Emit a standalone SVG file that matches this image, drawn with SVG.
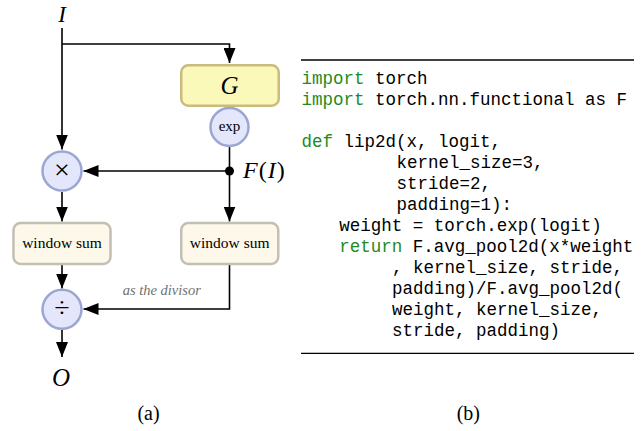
<svg xmlns="http://www.w3.org/2000/svg" width="642" height="431" viewBox="0 0 642 431">
<defs>
<marker id="arr" markerUnits="userSpaceOnUse" markerWidth="15" markerHeight="12" viewBox="0 0 15 12" refX="15" refY="6" orient="auto">
<path d="M0,0 L15,6 L0,12 z" fill="#000"/>
</marker>
<style>
.ln{fill:none;stroke:#000;stroke-width:1.6}
.circ{fill:#e4e7fb;stroke:#9ba6d3;stroke-width:2.5}
.ws{fill:#fdf8ea;stroke:#c4bfb4;stroke-width:2.5}
.g{fill:#fbf9b9;stroke:#c9bc7d;stroke-width:2.5}
.serif{font-family:"Liberation Serif","DejaVu Serif",serif;fill:#000}
.it{font-style:italic}
.code{font-family:"Liberation Mono","DejaVu Sans Mono",monospace;font-size:17.5px;fill:#000}
.kw{fill:#1f8a1f}
.rule{stroke:#000;stroke-width:1.3}
</style>
</defs>
<rect width="642" height="431" fill="#fff"/>

<g id="connectors">
<line class="ln" x1="62" y1="28" x2="62" y2="149.5" marker-end="url(#arr)"/>
<polyline class="ln" points="62,44 229.5,44 229.5,63" marker-end="url(#arr)"/>
<line class="ln" x1="229.5" y1="147" x2="229.5" y2="171"/>
<line class="ln" x1="229.5" y1="171" x2="83.5" y2="171" marker-end="url(#arr)"/>
<line class="ln" x1="229.5" y1="171" x2="229.5" y2="221.5" marker-end="url(#arr)"/>
<line class="ln" x1="62" y1="192" x2="62" y2="221.5" marker-end="url(#arr)"/>
<line class="ln" x1="62" y1="265" x2="62" y2="288.5" marker-end="url(#arr)"/>
<polyline class="ln" points="229.5,265 229.5,309 83.5,309" marker-end="url(#arr)"/>
<line class="ln" x1="62" y1="330" x2="62" y2="357" marker-end="url(#arr)"/>
<circle cx="229.5" cy="171" r="4.5" fill="#000"/>
<text class="serif it" x="122.7" y="295" font-size="14.5" style="fill:#707070">as the divisor</text>
</g>

<g id="node-I">
<text class="serif it" x="62" y="21.5" font-size="23" text-anchor="middle">I</text>
</g>

<g id="node-G">
<rect class="g" x="181.25" y="65.25" width="97.5" height="40.5" rx="7"/>
<text class="serif it" x="229.5" y="94" font-size="25" text-anchor="middle">G</text>
</g>

<g id="node-exp">
<circle class="circ" cx="229.5" cy="127" r="19"/>
<text class="serif" x="229.5" y="131" font-size="15" text-anchor="middle">exp</text>
</g>

<g id="node-F">
<text class="serif" x="243" y="178" font-size="24" letter-spacing="1"><tspan class="it">F</tspan>(<tspan class="it">I</tspan>)</text>
</g>

<g id="node-mul">
<circle class="circ" cx="62" cy="171" r="19.5"/>
<text class="serif" x="62" y="178.5" font-size="28" text-anchor="middle">×</text>
</g>

<g id="node-ws1">
<rect class="ws" x="13.5" y="223" width="97" height="41" rx="7"/>
<text class="serif" x="62" y="248" font-size="15.5" text-anchor="middle">window sum</text>
</g>

<g id="node-ws2">
<rect class="ws" x="181.25" y="223" width="97" height="41" rx="7"/>
<text class="serif" x="229.7" y="248" font-size="15.5" text-anchor="middle">window sum</text>
</g>

<g id="node-div">
<circle class="circ" cx="62" cy="309.3" r="19.5"/>
<text class="serif" x="62" y="316.8" font-size="28" text-anchor="middle">÷</text>
</g>

<g id="node-O">
<text class="serif it" x="61" y="386" font-size="25" text-anchor="middle">O</text>
</g>

<g id="code" xml:space="preserve">
<line class="rule" x1="301" y1="60" x2="634" y2="60"/>
<text class="code" x="301.5" y="83.5"><tspan class="kw">import</tspan> torch</text>
<text class="code" x="301.5" y="104.5"><tspan class="kw">import</tspan> torch.nn.functional as F</text>
<text class="code" x="301.5" y="146.5"><tspan class="kw">def</tspan> lip2d(x, logit,</text>
<text class="code" x="396.5" y="167.5">kernel_size=3,</text>
<text class="code" x="396.5" y="188.5">stride=2,</text>
<text class="code" x="396.5" y="209.5">padding=1):</text>
<text class="code" x="339.3" y="230.5">weight = torch.exp(logit)</text>
<text class="code" x="339.3" y="251.5"><tspan class="kw">return</tspan> F.avg_pool2d(x*weight</text>
<text class="code" x="392" y="272.5">, kernel_size, stride,</text>
<text class="code" x="392" y="293.5">padding)/F.avg_pool2d(</text>
<text class="code" x="392" y="314.5">weight, kernel_size,</text>
<text class="code" x="392" y="335.5">stride, padding)</text>
<line class="rule" x1="301" y1="353.3" x2="634" y2="353.3"/>
</g>

<g id="captions">
<text class="serif" x="148.5" y="420" font-size="20" text-anchor="middle">(a)</text>
<text class="serif" x="468.3" y="420" font-size="20" text-anchor="middle">(b)</text>
</g>
</svg>
